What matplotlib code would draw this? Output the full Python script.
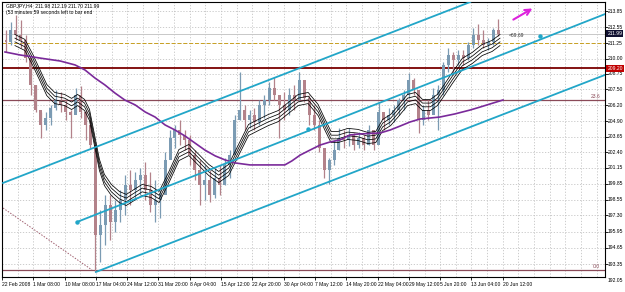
import numpy as np
import matplotlib
matplotlib.use("Agg")
import matplotlib.pyplot as plt

plt.rcParams['font.family'] = ['Liberation Sans', 'DejaVu Sans']

# GBPJPY H4, one bar ~ one day of H4 candles
high = [212.31, 212.96, 213.53, 213.12, 211.91, 209.88, 207.86, 205.67, 205.67, 206.24,
        207.45, 207.29, 206.64, 205.83, 207.61, 207.78, 205.83, 205.02, 202.99, 197.73,
        198.95, 198.95, 198.54, 199.35, 200.57, 200.97, 200.81, 201.13, 201.62, 200.81,
        200.16, 199.35, 202.43, 204.21, 204.62, 205.02, 204.21, 203.81, 202.59, 201.78,
        201.38, 200.97, 201.13, 201.38, 201.94, 202.59, 205.43, 208.91, 206.24, 205.83,
        205.99, 206.64, 207.05, 208.10, 208.50, 207.05, 207.29, 207.61, 207.86, 208.91,
        208.26, 207.05, 206.24, 205.02, 202.75, 201.94, 203.40, 204.37, 204.21, 204.37,
        203.97, 204.05, 203.81, 204.62, 203.56, 206.40, 205.43, 205.99, 206.24, 206.80,
        207.45, 208.83, 208.42, 207.05, 206.24, 206.64, 207.61, 207.86, 209.72, 210.85,
        210.53, 210.69, 210.69, 211.34, 212.47, 212.80, 212.31, 211.66, 212.47, 213.20]
low = [210.53, 211.10, 211.50, 210.85, 209.72, 207.05, 205.67, 203.56, 204.21, 204.62,
       205.83, 205.67, 205.02, 203.56, 205.67, 205.18, 203.40, 202.75, 192.71, 193.52,
       194.90, 195.30, 195.95, 196.76, 197.33, 198.13, 198.54, 198.95, 198.54, 197.57,
       196.76, 197.08, 199.76, 202.18, 202.75, 202.99, 202.59, 201.38, 200.16, 198.13,
       198.54, 198.38, 198.70, 198.95, 199.76, 200.32, 202.59, 205.02, 204.21, 204.37,
       204.21, 204.62, 205.18, 206.24, 206.64, 203.56, 205.02, 205.43, 205.83, 206.64,
       206.48, 204.62, 204.21, 202.43, 200.32, 199.84, 201.38, 202.59, 202.75, 202.91,
       202.59, 202.75, 202.59, 202.99, 202.59, 203.56, 204.21, 204.62, 204.86, 205.43,
       205.83, 206.80, 207.05, 203.97, 204.62, 205.02, 205.67, 204.21, 207.05, 208.91,
       208.67, 209.48, 209.48, 209.88, 210.85, 211.10, 210.85, 210.69, 211.10, 211.83]
close = [211.34, 212.31, 211.91, 211.50, 210.04, 207.86, 205.83, 204.62, 205.18, 205.99,
         206.64, 206.24, 205.67, 205.43, 207.05, 205.67, 204.62, 202.99, 195.71, 196.52,
         198.13, 196.76, 197.73, 198.54, 199.76, 199.35, 200.16, 200.57, 199.35, 198.13,
         198.54, 198.95, 201.78, 203.56, 204.21, 203.81, 203.40, 202.18, 200.97, 199.76,
         200.16, 198.95, 200.32, 199.76, 201.38, 202.18, 205.02, 205.83, 205.02, 205.43,
         204.86, 206.24, 206.64, 207.61, 207.05, 206.24, 205.83, 207.05, 206.64, 208.26,
         206.80, 205.43, 204.62, 202.75, 200.97, 201.78, 202.59, 203.56, 203.40, 203.81,
         202.99, 203.56, 202.99, 204.21, 202.99, 205.67, 205.02, 205.43, 205.83, 206.64,
         207.05, 208.26, 207.45, 205.02, 205.83, 205.43, 207.05, 207.45, 209.48, 210.29,
         209.88, 210.29, 210.04, 211.10, 211.91, 211.50, 211.10, 211.34, 212.31, 211.99]
first_open = 211.50

# black moving-average envelope (centre line) and the purple long MA
ma_bar = [1.8, 3.8, 5.4, 6.8, 8.2, 9.8, 11.8, 13.2, 14.4, 15.8, 16.8, 17.8, 18.8, 19.8,
          21.2, 22.8, 24.2, 25.8, 27.4, 29.2, 30.8, 32.8, 34.8, 36.8, 38.8, 40.8, 42.8,
          44.8, 46.8, 48.8, 50.8, 52.8, 54.8, 56.8, 58.8, 60.8, 62.8, 64.2, 65.4, 66.8,
          68.8, 70.8, 72.8, 74.4, 75.8, 77.4, 78.8, 80.8, 82.4, 83.8, 85.4, 86.8, 88.2,
          89.8, 91.8, 93.8, 95.8, 97.8, 99.4]
ma_price = [211.50, 211.10, 209.88, 208.67, 207.45, 206.80, 206.64, 206.32, 206.64, 206.24,
            205.43, 203.40, 201.38, 200.16, 199.35, 198.78, 198.54, 198.95, 199.35, 199.19,
            198.78, 200.40, 202.18, 202.59, 201.78, 200.97, 200.40, 200.97, 202.59, 204.21,
            204.62, 205.02, 205.34, 205.99, 206.64, 206.80, 205.83, 204.62, 203.64, 203.64,
            203.89, 203.81, 203.56, 203.64, 204.62, 205.02, 205.67, 206.64, 206.80, 206.24,
            206.24, 206.64, 207.45, 208.42, 209.56, 210.04, 210.69, 211.02, 211.50]
band_offsets = [-0.45, -0.15, 0.15, 0.45]

long_ma_bar = [-0.2, 2.8, 6.8, 10.9, 13.9, 15.9, 17.9, 19.9, 21.9, 23.9, 26.0, 28.0, 30.0,
               32.0, 34.0, 36.0, 38.0, 40.0, 42.1, 44.1, 46.1, 49.1, 53.1, 56.1, 57.5, 59.2,
               61.2, 63.2, 65.2, 67.2, 69.2, 71.2, 75.3, 77.3, 79.3, 81.3, 83.3, 87.3, 90.3,
               93.4, 95.4, 97.4, 100.0]
long_ma_price = [210.53, 210.29, 210.04, 209.80, 209.48, 209.07, 208.42, 207.86, 207.21,
                 206.64, 206.24, 205.67, 205.26, 204.62, 204.21, 203.73, 203.16, 202.59,
                 202.11, 201.78, 201.54, 201.38, 201.38, 201.38, 201.70, 202.18, 202.59,
                 202.99, 203.24, 203.40, 203.81, 203.89, 203.97, 204.21, 204.53, 204.86,
                 205.10, 205.26, 205.51, 205.83, 206.07, 206.32, 206.64]

# drawn objects: channel lines, fib trend line, levels
chan_upper = ([-0.6, 93.4], [199.92, 214.58])
chan_mid = ([14.3, 120.5], [196.76, 213.60])
chan_low = ([18.1, 120.5], [192.71, 208.67])
chan_points = ([14.3, 60.8, 107.4], [196.76, 204.29, 211.83])
fib_trend = ([-0.6, 17.3], [197.89, 192.87])
level_red = 209.20
level_bid = 211.99
level_gold = 211.26
fib_236 = 206.64
fib_0 = 192.87

price_ticks = [213.85, 212.55, 211.25, 210.00, 208.75, 207.50, 206.20, 204.90, 203.65,
               202.40, 201.15, 199.85, 198.55, 197.30, 195.95, 194.65, 193.35, 192.05]
time_labels = ["22 Feb 2008", "1 Mar 08:00", "10 Mar 08:00", "17 Mar 04:00",
               "24 Mar 12:00", "31 Mar 20:00", "8 Apr 04:00", "15 Apr 12:00",
               "22 Apr 20:00", "30 Apr 04:00", "7 May 12:00", "14 May 20:00",
               "22 May 04:00", "29 May 12:00", "5 Jun 20:00", "13 Jun 04:00",
               "20 Jun 12:00"]

BAR_PX = 4.97
FS = 3.6


def px_to_bar(px):
    return (px - 6) / BAR_PX


def draw_chart():
    fig = plt.figure(figsize=(6.25, 2.92), dpi=100)
    ax = fig.add_axes([2 / 625, 15 / 292, 603 / 625, 275 / 292])
    ax.set_xlim(px_to_bar(2), px_to_bar(605))
    ax.set_ylim(192.30, 214.58)

    # grid
    grid_kw = dict(color="#c4c4c4", lw=0.6, linestyle=(0, (1.5, 2)), zorder=0)
    for k in range(39):
        ax.axvline(px_to_bar(2 + 15.65 * k), **grid_kw)
    for p in price_ticks:
        ax.axhline(p, **grid_kw)

    # levels
    ax.axhline(level_bid, color="#c8c8c8", lw=0.7, zorder=1)
    ax.axhline(level_gold, color="#c8a020", lw=0.7, dashes=(4, 2), zorder=1)
    ax.axhline(level_red, color="#7a0000", lw=1.3, zorder=1)
    ax.axhline(fib_236, color="#8a4a58", lw=0.9, zorder=1)
    ax.axhline(fib_0, color="#8a4a58", lw=0.9, zorder=1)
    ax.plot(fib_trend[0], fib_trend[1], color="#a06070", lw=0.7, dashes=(1.5, 1.5), zorder=1)

    # candles
    x = np.arange(len(close))
    opens = np.array([first_open] + close[:-1])
    closes = np.array(close)
    cols = np.where(closes >= opens, "#7b9bb3", "#b3828a")
    ax.vlines(x, low, high, colors=cols, lw=0.9, zorder=2)
    ax.bar(x, closes - opens, bottom=opens, width=0.6, color=cols, lw=0, zorder=2)

    # indicators
    for off in band_offsets:
        ax.plot(ma_bar, np.array(ma_price) + off, color="black", lw=0.55, zorder=3)
    ax.plot(long_ma_bar, long_ma_price, color="#7a2a9a", lw=1.2, zorder=3)

    # channel
    for xs, ys in (chan_upper, chan_mid, chan_low):
        ax.plot(xs, ys, color="#22a6c8", lw=1.3, zorder=4)
    ax.plot(chan_points[0], chan_points[1], "o", ms=2.2, color="#22a6c8", zorder=4)

    # annotations
    ax.annotate("", xy=(106.4, 214.17), xytext=(101.6, 213.04),
                arrowprops=dict(arrowstyle="->", color="#dd22dd", lw=1.5), zorder=5)
    ax.text(101.2, 211.83, "<69.69", fontsize=FS, color="#333333", va="center")
    ax.text(px_to_bar(600), fib_236 + 0.1, "23.6", fontsize=FS, color="#8a4a58",
            ha="right", va="bottom")
    ax.text(px_to_bar(600), fib_0 + 0.1, "0.0", fontsize=FS, color="#8a4a58",
            ha="right", va="bottom")

    # right price scale
    ax.set_yticks([p for p in price_ticks if p > 192.3])
    ax.yaxis.tick_right()
    ax.tick_params(axis="y", length=2, width=0.6, labelright=False)
    ytr = ax.get_yaxis_transform()
    for p in price_ticks:
        ax.text(1.004, p, "%.2f" % p, transform=ytr, fontsize=FS, va="center",
                ha="left", clip_on=False)
    ax.text(1.004, level_bid, "%.2f" % level_bid, transform=ytr, fontsize=FS,
            va="center", ha="left", color="white", clip_on=False,
            bbox=dict(boxstyle="square,pad=0.2", fc="#101030", ec="none"))
    ax.text(1.004, level_red, "%.2f" % level_red, transform=ytr, fontsize=FS,
            va="center", ha="left", color="white", clip_on=False,
            bbox=dict(boxstyle="square,pad=0.2", fc="#c00000", ec="none"))

    # time scale
    ticks = [px_to_bar(2 + 31.3 * k) for k in range(len(time_labels))]
    ax.set_xticks(ticks)
    ax.set_xticklabels(time_labels, ha="left", fontsize=FS)
    ax.tick_params(axis="x", length=2, width=0.6, pad=1.5)

    for s in ax.spines.values():
        s.set_linewidth(0.8)
        s.set_color("black")

    fig.text(6 / 625, 1 - 3 / 292, "GBPJPY,H4  211.98 212.19 211.70 211.99",
             fontsize=FS, va="top")
    fig.text(6 / 625, 1 - 10 / 292, "(53 minutes 59 seconds left to bar end",
             fontsize=FS, va="top")

    fig.savefig("out.png", dpi=100)


if __name__ == '__main__':
    draw_chart()
